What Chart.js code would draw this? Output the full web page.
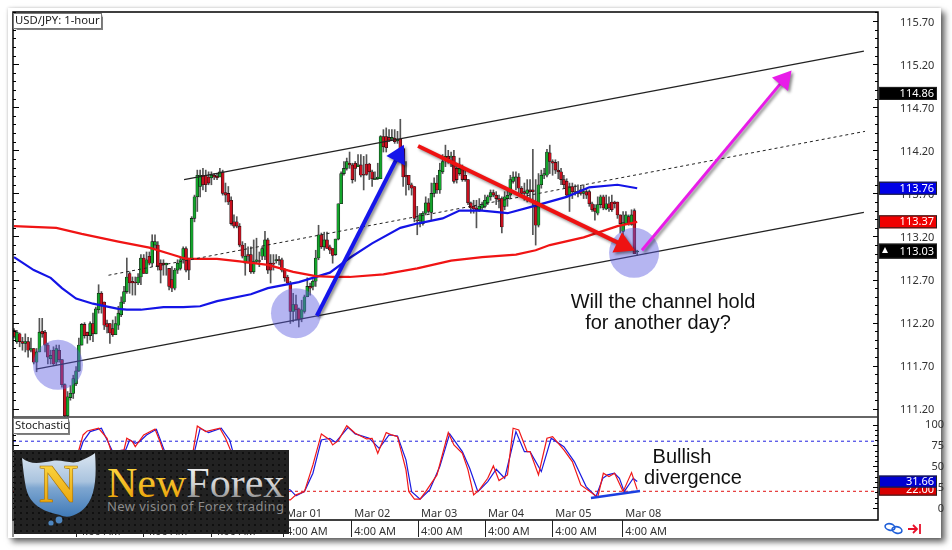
<!DOCTYPE html>
<html>
<head>
<meta charset="utf-8">
<title>USD/JPY: 1-hour</title>
<script src="https://cdn.jsdelivr.net/npm/chart.js@4"></script>
<style>
  html, body { margin: 0; background: #fff; }
  #card { position: absolute; left: 8px; top: 8px; width: 933px; height: 530px; background: #fff;
          box-shadow: 4px 4px 6px rgba(0,0,0,.6), 0 0 3px rgba(0,0,0,.2); }
  canvas { position: absolute; left: 0; top: 0; }
  #logo { position: absolute; left: 0; top: 0; }
</style>
</head>
<body>
<div id="card"></div>
<canvas id="fxChart" width="952" height="550"></canvas>
<svg id="logo" width="952" height="550">
  <defs>
    <pattern id="dots" width="6" height="6" patternUnits="userSpaceOnUse">
      <circle cx="3" cy="3" r="1.1" fill="#0b0b0b"/>
    </pattern>
    <linearGradient id="shield" x1="0" y1="0" x2="0" y2="1">
      <stop offset="0" stop-color="#dbe6f2"/><stop offset=".45" stop-color="#a9c3de"/>
      <stop offset=".55" stop-color="#7ea6d0"/><stop offset="1" stop-color="#3f7ab8"/>
    </linearGradient>
    <linearGradient id="gold" x1="0" y1="0" x2="0" y2="1">
      <stop offset="0" stop-color="#ffe04a"/><stop offset="1" stop-color="#e79a00"/>
    </linearGradient>
    <linearGradient id="silver" x1="0" y1="0" x2="0" y2="1">
      <stop offset="0" stop-color="#ffffff"/><stop offset=".55" stop-color="#cfcfcf"/><stop offset="1" stop-color="#6e6e6e"/>
    </linearGradient>
  </defs>
  <rect x="14" y="450" width="275" height="84" fill="#222"/>
  <rect x="14" y="450" width="275" height="84" fill="url(#dots)"/>
  <path d="M22 458 C30 465 40 463 52 461 C62 459 72 465 80 461 C86 458 92 456 95 453 C97 480 95 502 80 512 C72 517 66 518 60 515 C45 512 30 506 26 488 C24 478 23 468 22 458 Z" fill="url(#shield)"/>
  <circle cx="59" cy="520" r="3.4" fill="#4d86c0"/>
  <circle cx="51" cy="523" r="2.6" fill="#4d86c0"/>
  <text x="39" y="502" font-family="Liberation Serif" font-weight="bold" font-size="54" fill="url(#gold)" stroke="#a86f00" stroke-width=".6">N</text>
  <text x="107" y="497" font-family="Liberation Serif" font-size="42"><tspan fill="url(#gold)">New</tspan><tspan fill="url(#silver)">Forex</tspan></text>
  <text x="107" y="511" font-family="Noto Sans" font-size="13" fill="#8b8b8b" textLength="177" lengthAdjust="spacing">New vision of Forex trading</text>
</svg>
<script>
'use strict';

const opens = [
  112.11,111.98,112.07,111.98,111.96,111.98,111.88,111.90,111.74,111.86,
  112.10,112.09,111.94,111.78,111.88,111.74,111.88,111.77,111.48,111.12,
  111.33,111.38,111.49,111.64,111.94,112.18,112.09,112.05,112.19,112.07,
  112.35,112.54,112.44,112.19,112.19,112.13,112.06,112.17,112.29,112.44,
  112.56,112.77,112.68,112.67,112.66,112.73,112.95,112.77,112.97,112.89,
  113.10,113.10,112.89,112.89,112.87,112.83,112.70,112.60,112.81,112.83,
  112.93,113.06,112.93,112.93,113.41,113.66,113.78,113.91,113.91,113.89,
  113.88,113.91,113.90,113.89,113.95,113.71,113.70,113.62,113.37,113.37,
  113.32,113.10,112.89,112.99,112.99,112.79,112.91,112.92,112.97,112.97,
  113.16,112.89,112.89,112.92,112.93,112.93,112.81,112.73,112.66,112.33,
  112.41,112.36,112.25,112.33,112.50,112.62,112.62,112.68,112.95,113.22,
  113.08,113.16,113.08,113.06,112.99,113.17,113.58,113.93,113.99,114.05,
  114.03,114.05,114.01,114.03,113.92,114.04,114.04,113.95,113.86,113.87,
  113.87,114.36,114.36,114.35,114.33,114.34,114.31,114.33,114.22,113.91,
  113.91,113.80,113.78,113.39,113.38,113.35,113.47,113.59,113.48,113.70,
  113.82,113.74,113.95,114.11,114.13,114.12,114.13,113.99,113.93,113.99,
  113.91,113.86,113.59,113.55,113.53,113.51,113.53,113.55,113.59,113.66,
  113.71,113.68,113.64,113.64,113.55,113.64,113.68,113.84,113.88,113.89,
  113.76,113.72,113.70,113.74,113.74,113.55,113.33,113.80,113.91,113.91,
  114.17,114.07,114.06,113.97,113.95,113.86,113.84,113.68,113.78,113.72,
  113.70,113.74,113.70,113.72,113.72,113.58,113.53,113.47,113.57,113.66,
  113.52,113.58,113.60,113.60,113.60,113.45,113.26,113.35,113.43,113.34,
  113.50,113.02
];
const closes = [
  112.04,112.09,111.98,111.96,111.98,111.88,111.90,111.74,111.86,112.09,
  112.07,111.94,111.80,111.82,111.72,111.90,111.77,111.48,111.12,111.34,
  111.38,111.55,111.64,111.94,112.18,112.05,112.05,112.19,112.07,112.36,
  112.54,112.39,112.17,112.15,112.08,112.06,112.19,112.31,112.44,112.56,
  112.73,112.66,112.66,112.66,112.73,112.95,112.77,112.93,112.89,113.14,
  113.14,112.85,112.81,112.87,112.89,112.62,112.60,112.81,112.89,112.93,
  113.06,112.81,112.81,113.41,113.66,113.91,113.91,113.80,113.80,113.82,
  113.91,113.89,113.88,113.95,113.70,113.68,113.60,113.35,113.32,113.32,
  113.10,112.97,112.97,112.97,112.79,112.91,112.93,112.91,113.06,113.16,
  112.81,112.81,112.88,112.93,112.92,112.81,112.72,112.66,112.33,112.41,
  112.35,112.23,112.35,112.50,112.62,112.60,112.68,112.95,113.22,113.08,
  113.16,113.06,113.04,112.98,113.17,113.58,113.93,113.99,114.07,114.03,
  113.86,113.99,114.03,113.91,113.91,113.92,113.95,113.87,113.87,113.89,
  114.36,114.24,114.23,114.32,114.35,114.30,114.33,114.22,113.89,113.89,
  113.80,113.76,113.41,113.38,113.45,113.47,113.59,113.49,113.70,113.82,
  113.74,113.97,114.07,114.13,114.10,114.13,113.84,113.86,113.99,113.86,
  113.86,113.59,113.53,113.52,113.51,113.55,113.57,113.62,113.66,113.71,
  113.68,113.64,113.62,113.31,113.66,113.68,113.86,113.89,113.89,113.76,
  113.70,113.70,113.74,113.72,113.72,113.33,113.80,113.91,113.93,114.18,
  114.07,114.05,113.97,113.95,113.86,113.80,113.68,113.78,113.72,113.71,
  113.72,113.70,113.72,113.68,113.58,113.51,113.49,113.57,113.66,113.53,
  113.58,113.53,113.51,113.58,113.45,113.35,113.36,113.45,113.35,113.45,
  113.00,113.03
];
const highs = [
  112.13,112.11,112.08,112.03,112.07,112.03,112.02,111.90,111.90,112.25,
  112.25,112.11,111.96,111.88,111.92,111.94,111.94,111.77,111.49,111.40,
  111.47,111.59,111.69,112.02,112.19,112.20,112.09,112.21,112.31,112.38,
  112.64,112.56,112.44,112.23,112.19,112.23,112.27,112.39,112.50,112.62,
  112.95,112.79,112.73,112.73,112.77,112.99,112.99,113.02,113.02,113.22,
  113.22,113.14,112.93,112.93,112.89,112.83,112.85,112.83,112.93,112.95,
  113.08,113.08,112.95,113.43,113.68,113.97,113.97,113.99,113.97,113.95,
  113.95,113.93,113.93,113.99,113.97,113.82,113.78,113.66,113.45,113.43,
  113.35,113.14,113.12,113.08,113.08,113.16,113.18,113.02,113.08,113.26,
  113.18,112.99,112.99,112.99,112.97,112.95,112.83,112.75,112.68,112.54,
  112.52,112.37,112.46,112.52,112.72,112.66,112.70,113.04,113.33,113.24,
  113.25,113.25,113.10,113.06,113.17,113.58,113.95,114.07,114.11,114.18,
  114.05,114.07,114.15,114.15,114.13,114.15,114.05,113.97,113.95,114.05,
  114.37,114.44,114.46,114.44,114.44,114.44,114.42,114.56,114.24,114.07,
  113.91,113.82,113.78,113.55,113.47,113.49,113.66,113.64,113.82,113.88,
  113.91,114.05,114.15,114.26,114.20,114.18,114.20,114.05,114.11,114.03,
  113.97,113.86,113.60,113.62,113.62,113.64,113.60,113.68,113.68,113.74,
  113.74,113.72,113.68,113.66,113.72,113.74,113.91,113.95,113.95,113.93,
  113.78,113.82,113.86,113.86,114.21,113.86,113.93,113.97,113.99,114.21,
  114.26,114.09,114.09,114.07,113.99,113.91,113.87,113.82,113.82,113.80,
  113.80,113.78,113.80,113.76,113.74,113.60,113.57,113.66,113.68,113.68,
  113.68,113.66,113.68,113.61,113.60,113.45,113.49,113.49,113.45,113.51,
  113.52,113.04
];
const lows = [
  112.02,111.96,111.92,111.88,111.86,111.80,111.86,111.72,111.63,111.86,
  112.03,111.86,111.72,111.72,111.70,111.71,111.74,111.45,111.11,111.11,
  111.30,111.32,111.47,111.63,111.94,112.02,111.96,112.00,111.98,112.07,
  112.31,112.31,112.12,112.08,111.96,112.04,112.06,112.12,112.27,112.42,
  112.54,112.54,112.52,112.52,112.64,112.64,112.77,112.77,112.87,112.85,
  113.06,112.81,112.66,112.75,112.75,112.58,112.56,112.58,112.77,112.81,
  112.89,112.79,112.70,112.93,113.37,113.49,113.66,113.74,113.72,113.80,
  113.80,113.86,113.86,113.89,113.68,113.60,113.57,113.33,113.30,113.30,
  113.08,112.95,112.75,112.89,112.77,112.77,112.89,112.85,112.93,112.93,
  112.77,112.66,112.81,112.89,112.87,112.79,112.68,112.64,112.19,112.21,
  112.23,112.15,112.21,112.31,112.50,112.52,112.58,112.62,112.93,113.06,
  113.04,113.06,113.00,112.89,112.98,113.16,113.58,113.91,113.97,113.99,
  113.82,113.84,114.01,113.89,113.74,113.91,113.86,113.78,113.86,113.86,
  113.87,114.18,114.18,114.30,114.32,114.28,114.28,114.22,113.78,113.68,
  113.74,113.68,113.37,113.22,113.31,113.33,113.45,113.47,113.39,113.66,
  113.70,113.70,113.93,114.01,114.05,114.01,113.82,113.82,113.91,113.84,
  113.84,113.57,113.47,113.47,113.30,113.49,113.51,113.53,113.57,113.62,
  113.66,113.57,113.53,113.24,113.51,113.55,113.64,113.82,113.74,113.70,
  113.68,113.62,113.60,113.62,113.22,113.10,113.31,113.76,113.87,113.89,
  113.93,113.91,113.93,113.87,113.80,113.76,113.66,113.49,113.64,113.68,
  113.66,113.68,113.64,113.64,113.55,113.49,113.39,113.45,113.53,113.51,
  113.51,113.49,113.49,113.53,113.41,113.24,113.22,113.35,113.33,113.33,
  113.00,112.98
];

// moving averages, sampled along the curves
const redMaBars = [0,15,24,37,48,56,61,72,80,90,99,107,113,119,131,143,155,166,178,185,190,202,214,221];
const redMaValues = [113.32,113.30,113.23,113.14,113.07,112.99,112.94,112.94,112.91,112.87,112.79,112.74,112.73,112.73,112.76,112.83,112.92,112.96,112.99,113.04,113.10,113.19,113.32,113.37];
const blueMaBars = [0,7,13,17,22,28,37,40,45,53,60,66,72,84,90,101,112,119,127,137,143,152,158,166,175,184,196,204,214,221];
const blueMaValues = [112.96,112.81,112.72,112.60,112.48,112.42,112.36,112.35,112.35,112.38,112.38,112.39,112.45,112.53,112.60,112.67,112.78,112.95,113.12,113.30,113.35,113.41,113.50,113.50,113.47,113.55,113.66,113.77,113.80,113.76];

// stochastic lines
const stochRedBars = [0,10,18,23,24.5,26,30,33,34.5,39,40,42,43,46,50,52,53,60,63.5,65,68,73,75,77,80,90,96,98,100,103,106,109,112,113,115,118,121,125,127,129,132,134,136,139,140,142,144,146,150,154,156,159,161,163,165,168,170,172,175,177,179,182,183,186,189,191,195,198,201,207,209,211,213,216,219,221];
const stochRedValues = [55,30,8,69.5,87.5,92.3,95.5,83.5,67.5,69.5,83.5,79.5,73.5,87.5,94.6,77.5,67.5,40,67.5,98.3,91.5,95.5,83.5,67.5,30,25,10,9.7,15.7,19.6,51.6,88.7,81.5,75.5,80.7,98.6,89.5,82.7,83.5,65.5,90.3,87.5,85.5,45.6,19.6,10.5,10.5,19.6,39.6,90.3,75.5,65.5,45.6,15.7,21.6,35.6,50.4,32.8,39.6,95.5,93.5,67.5,67.5,39.6,83.5,85.5,69.5,55.6,27.6,12.9,41.6,37.6,41.6,19.6,42.4,22];
const stochBlueBars = [0,10,19,23.5,24.5,27,31,33,35,39.6,41,43,44.5,47,50.5,53,53.5,60,64,66,69,73.5,76.5,77.6,81,91,98,100,103,106,109,112,114,118.5,121,126,129.5,133,136,139,141,144,147.4,151,154.5,159,161.6,164.5,168,171,174,178,181,183,187,190.5,195,198.7,202.9,206.4,208.8,210.5,212.9,214.7,216.4,219.6,221];
const stochBlueValues = [50,32,10,69.5,79.5,91.5,95.5,81.5,67.5,69.5,81.5,77.5,79.5,87.5,94.3,71.5,67.5,42,67.5,95.5,90.3,95.5,81.5,67.5,32,27,21.6,14.5,19.6,41.6,81.5,83.5,78.7,96.7,88.7,83.5,71.5,87.5,86.3,57.6,19.6,10.5,21.6,49.6,88.7,67.5,47.6,19.6,31.6,46.4,35.6,91.5,67.5,67.5,43.6,83.5,73.5,55.6,25.6,13.7,35.6,39.6,41.6,35.6,19.6,35.6,31.66];
const stochLevels = [80, 20];

// channel, drawn by hand on the chart: [start, end]
const channelBars = { lower: [7.8, 301.4], upper: [60.3, 301.4], mid: [33.5, 301.8] };
const channelPrices = { lower: [111.66, 113.48], upper: [113.86, 115.35], mid: [112.75, 114.42] };

const divergenceBars = [204.6, 222];
const divergenceValues = [12, 20.4];

const circleBars = [15.6, 100, 219.9];
const circlePrices = [111.71, 112.31, 113.01];

const blueArrowBars = [107.4, 136.3];
const blueArrowPrices = [112.28, 114.14];
const redArrowBars = [143.3, 216];
const redArrowPrices = [114.25, 113.10];
const pinkArrowBars = [222.7, 273];
const pinkArrowPrices = [113.04, 115.02];

const priceTicks = [115.7, 115.2, 114.7, 114.2, 113.7, 113.2, 112.7, 112.2, 111.7, 111.2];
const stochTicks = [100, 75, 50, 25, 0];
const timeTickBars = [22, 45.7, 69.9, 95.4, 119.6, 143.3, 167, 190.9, 215.7];
const timeTickLabels = ['4:00 AM', '4:00 AM', '4:00 AM', '4:00 AM', '4:00 AM', '4:00 AM', '4:00 AM', '4:00 AM', '4:00 AM'];
const dayLabels = ['Mar 01', 'Mar 02', 'Mar 03', 'Mar 04', 'Mar 05', 'Mar 08'];
const dayLabelBars = timeTickBars.slice(3);

const priceTags = [114.86, 113.76, 113.37, 113.03];
const priceTagColors = ['#000', '#0000e6', '#f00000', '#000'];
const stochTags = [22.00, 31.66];
const stochTagColors = ['#d80000', '#0000d0'];

const UI_FONT = '"Noto Sans"';
const UP = '#14a52c';
const DOWN = '#c80f1e';

function pairs(xs, ys) {
  return xs.map((x, i) => ({ x: x, y: ys[i] }));
}

function lineSet(xs, ys, color, width, order, axis, extra) {
  return Object.assign({
    type: 'line', data: pairs(xs, ys), borderColor: color, borderWidth: width,
    pointRadius: 0, tension: 0, order: order, yAxisID: axis, xAxisID: 'x', fill: false,
  }, extra || {});
}

function arrowSet(xs, ys, color, width, head, angle) {
  return lineSet(xs, ys, color, width, 1, 'y', {
    pointRadius: [0, head], pointStyle: 'triangle', pointRotation: [0, angle],
    pointBackgroundColor: color, pointBorderWidth: 0, shadow: true,
  });
}

// the panes have to fill the exact frame, so no room for half tick labels
function noPadding(s) {
  s.paddingLeft = 0;
  s.paddingRight = 0;
  s.paddingTop = 0;
  s.paddingBottom = 0;
}

const bars = opens.map((o, i) => i);

// all the text and the furniture that Chart.js does not draw by itself
const furniture = {
  id: 'furniture',
  beforeDatasetDraw(chart, args) {
    if (chart.data.datasets[args.index].shadow) {
      const c = chart.ctx;
      c.save();
      c.shadowColor = 'rgba(0,0,0,.45)';
      c.shadowBlur = 3;
      c.shadowOffsetX = 2;
      c.shadowOffsetY = 2;
    }
  },
  afterDatasetDraw(chart, args) {
    if (chart.data.datasets[args.index].shadow) chart.ctx.restore();
  },
  afterDraw(chart) {
    const c = chart.ctx;
    const { x, y, y2 } = chart.scales;
    const L = x.left, R = x.right, T = y.top, M = y.bottom, B = y2.bottom;
    c.save();

    // inner tick marks on both sides
    c.strokeStyle = '#000';
    c.lineWidth = 1;
    const mark = (py, major) => {
      const p = Math.round(py) + 0.5;
      c.beginPath();
      c.moveTo(L, p); c.lineTo(L + (major ? 6 : 3), p);
      c.moveTo(R, p); c.lineTo(R - (major ? 5 : 3), p);
      c.stroke();
    };
    for (let k = 0; k <= 46; k++) {
      const v = 115.8 - k * 0.1;
      mark(y.getPixelForValue(v), Math.abs((v - 115.7) / 0.5 - Math.round((v - 115.7) / 0.5)) < 0.01);
    }
    for (let k = 0; k <= 16; k++) mark(y2.getPixelForValue(100 - k * 6.25), k % 4 === 0);

    // frame, pane divider and time separators
    c.strokeStyle = '#000';
    c.lineWidth = 1.5;
    c.strokeRect(L, T, R - L, B - T);
    c.strokeStyle = '#333';
    c.beginPath(); c.moveTo(L, M); c.lineTo(R, M); c.stroke();
    c.lineWidth = 1;
    c.strokeStyle = '#222';
    c.beginPath();
    c.moveTo(L, B); c.lineTo(L, 537);
    timeTickBars.forEach((b) => {
      const p = Math.round(x.getPixelForValue(b)) + 0.5;
      c.moveTo(p, B); c.lineTo(p, 537);
    });
    c.stroke();

    // day labels sit just above the time axis
    c.font = '11px ' + UI_FONT;
    c.fillStyle = '#333';
    c.textAlign = 'left';
    c.textBaseline = 'middle';
    dayLabels.forEach((t, i) => c.fillText(t, x.getPixelForValue(dayLabelBars[i]) + 3, 514));

    // pane titles
    const title = (t, px, py, w) => {
      c.save();
      c.shadowColor = 'rgba(0,0,0,.5)';
      c.shadowOffsetX = 1.5;
      c.shadowOffsetY = 1.5;
      c.shadowBlur = 1;
      c.fillStyle = '#fff';
      c.fillRect(px, py, w, 15);
      c.restore();
      c.strokeStyle = '#777';
      c.lineWidth = 1;
      c.strokeRect(px + 0.5, py + 0.5, w, 15);
      c.fillStyle = '#222';
      c.font = '11.3px ' + UI_FONT;
      c.textAlign = 'left';
      c.fillText(t, px + 2, py + 8);
    };
    title('USD/JPY: 1-hour', 13, 13, 88);
    title('Stochastic', 13, 418, 55);

    // last value tags on the price axis
    const tag = (v, scale, color, h) => {
      const py = scale.getPixelForValue(v);
      c.fillStyle = color;
      c.fillRect(879, py - h / 2, 58, h);
      c.strokeStyle = '#222';
      c.strokeRect(879.5, py - h / 2 + 0.5, 57, h - 1);
      c.fillStyle = '#fff';
      c.font = '11px ' + UI_FONT;
      c.textAlign = 'right';
      c.fillText(v.toFixed(2), 934, py + 0.5);
    };
    priceTags.forEach((v, i) => tag(v, y, priceTagColors[i], i === 3 ? 15 : 13));
    const tipY = y.getPixelForValue(priceTags[3]) - 1;
    c.fillStyle = '#fff';
    c.beginPath();
    c.moveTo(882, tipY + 3); c.lineTo(885, tipY - 3); c.lineTo(888, tipY + 3);
    c.fill();
    stochTags.forEach((v, i) => tag(v, y2, stochTagColors[i], 12));

    // small chart buttons in the corner
    c.strokeStyle = '#1f5fd8';
    c.lineWidth = 1.6;
    c.beginPath(); c.ellipse(890, 527, 5, 3.2, 0.25, 0, Math.PI * 2); c.stroke();
    c.beginPath(); c.ellipse(897, 530, 5, 3.2, 0.25, 0, Math.PI * 2); c.stroke();
    c.strokeStyle = '#e8102a';
    c.lineWidth = 1.8;
    c.beginPath();
    c.moveTo(908, 529); c.lineTo(917, 529);
    c.moveTo(913, 525); c.lineTo(917, 529); c.lineTo(913, 533);
    c.moveTo(920, 524); c.lineTo(920, 534);
    c.stroke();

    // comments on the chart
    c.fillStyle = '#111';
    c.font = '20px "Liberation Sans"';
    c.textAlign = 'center';
    c.fillText('Will the channel hold', 663, 302);
    c.fillText('for another day?', 658, 323);
    c.fillText('Bullish', 682, 457);
    c.fillText('divergence', 693, 478);
    c.restore();
  },
};

const chart = new Chart(document.getElementById('fxChart'), {
  type: 'bar',
  plugins: [furniture],
  data: {
    datasets: [
      {
        data: bars.map((b) => ({ x: b, y: [lows[b], highs[b]] })),
        backgroundColor: '#555', barThickness: 1, grouped: false, order: 10, yAxisID: 'y', xAxisID: 'x', minBarLength: 1,
      },
      {
        data: bars.map((b) => ({ x: b, y: [opens[b], closes[b]] })),
        backgroundColor: bars.map((b) => (closes[b] >= opens[b] ? UP : DOWN)),
        borderColor: '#111', borderWidth: 0.6, borderSkipped: false,
        barThickness: 3, grouped: false, order: 9, yAxisID: 'y', xAxisID: 'x', minBarLength: 1,
      },
      lineSet(redMaBars, redMaValues, '#f01414', 2.2, 8, 'y'),
      lineSet(blueMaBars, blueMaValues, '#1414e6', 2.2, 8, 'y'),
      lineSet(channelBars.upper, channelPrices.upper, '#222', 1.2, 7, 'y'),
      lineSet(channelBars.lower, channelPrices.lower, '#222', 1.2, 7, 'y'),
      lineSet(channelBars.mid, channelPrices.mid, '#222', 1, 7, 'y', { borderDash: [3, 3] }),
      {
        type: 'scatter', data: pairs(circleBars, circlePrices), pointRadius: 25, pointBorderWidth: 0,
        pointBackgroundColor: 'rgba(90,90,225,.45)', order: 6, yAxisID: 'y', xAxisID: 'x', clip: false,
      },
      arrowSet(blueArrowBars, blueArrowPrices, '#1616ea', 4, 12, 27),
      arrowSet(redArrowBars, redArrowPrices, '#ee1212', 4, 13, 115),
      arrowSet(pinkArrowBars, pinkArrowPrices, '#e81ce8', 3, 12, 40),
      lineSet([-0.36, 306.4], [stochLevels[0], stochLevels[0]], '#2020e0', 1, 8, 'y2', { borderDash: [3, 3] }),
      lineSet([-0.36, 306.4], [stochLevels[1], stochLevels[1]], '#e01010', 1, 8, 'y2', { borderDash: [3, 3] }),
      lineSet(stochBlueBars, stochBlueValues, '#1a1ae0', 1.2, 7, 'y2'),
      lineSet(stochRedBars, stochRedValues, '#f01818', 1.2, 6, 'y2'),
      lineSet(divergenceBars, divergenceValues, '#1c3fe0', 2.5, 5, 'y2'),
    ],
  },
  options: {
    responsive: false,
    animation: false,
    devicePixelRatio: 1,
    layout: { autoPadding: false, padding: { left: 13, top: 12, right: 8, bottom: 12 } },
    plugins: { legend: { display: false }, tooltip: { enabled: false } },
    scales: {
      x: {
        type: 'linear', min: -0.36, max: 306.4, position: 'bottom', offset: false,
        grid: { display: false, drawTicks: false },
        border: { display: false },
        afterFit(s) { s.height = 18; noPadding(s); },
        afterBuildTicks(s) { s.ticks = timeTickBars.map((v) => ({ value: v })); },
        ticks: {
          autoSkip: false, maxRotation: 0, align: 'start', labelOffset: 3, padding: 5,
          color: '#333', font: { family: 'Noto Sans', size: 11 },
          callback: (v, i) => timeTickLabels[i],
        },
      },
      y: {
        type: 'linear', position: 'right', stack: 'panes', stackWeight: 405, min: 111.105, max: 115.805,
        grid: { display: false, drawTicks: false },
        border: { display: false },
        afterFit(s) { s.width = 66; noPadding(s); },
        afterBuildTicks(s) { s.ticks = priceTicks.map((v) => ({ value: v })); },
        ticks: {
          autoSkip: false, padding: 22, labelOffset: 1.5, color: '#333', font: { family: 'Noto Sans', size: 11 },
          callback: (v) => Number(v).toFixed(2),
        },
      },
      y2: {
        type: 'linear', position: 'right', stack: 'panes', stackWeight: 103, min: -14.4, max: 109,
        grid: { display: false, drawTicks: false },
        border: { display: false },
        afterFit(s) { s.width = 66; noPadding(s); },
        afterBuildTicks(s) { s.ticks = stochTicks.map((v) => ({ value: v })); },
        ticks: {
          autoSkip: false, padding: 22, labelOffset: 0.5, crossAlign: 'far', color: '#333', font: { family: 'Noto Sans', size: 11 },
          callback: (v) => String(v),
        },
      },
    },
  },
});
</script>
</body>
</html>
